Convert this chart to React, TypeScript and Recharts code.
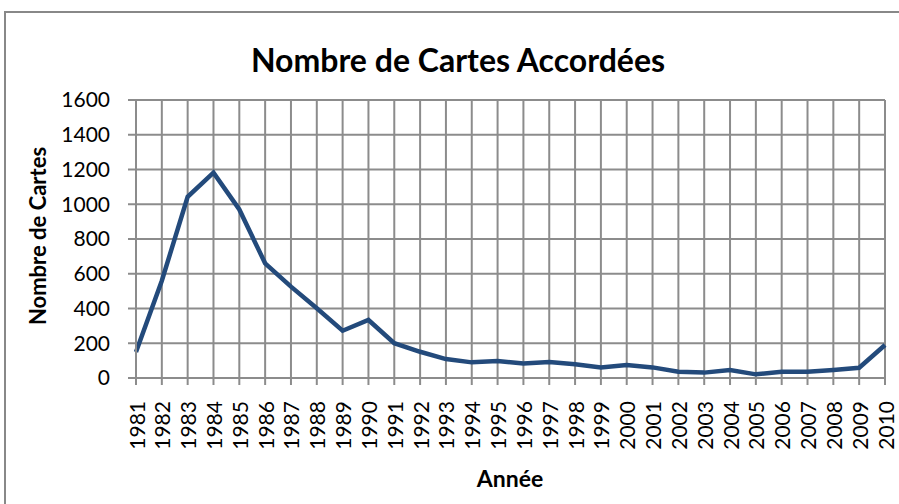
import { CartesianGrid, Line, LineChart, XAxis, YAxis } from "recharts";

const years = [
  "1981", "1982", "1983", "1984", "1985", "1986", "1987", "1988", "1989", "1990",
  "1991", "1992", "1993", "1994", "1995", "1996", "1997", "1998", "1999", "2000",
  "2001", "2002", "2003", "2004", "2005", "2006", "2007", "2008", "2009", "2010",
];
const cartes = [
  150, 560, 1043, 1182, 970, 660, 526, 401, 272, 334,
  200, 151, 109, 90, 98, 84, 92, 79, 61, 75,
  61, 36, 31, 46, 21, 36, 36, 46, 59, 190,
];
const yTicks = [0, 200, 400, 600, 800, 1000, 1200, 1400, 1600];

const data = years.map((year, i) => ({ year, cartes: cartes[i] }));

const FONT = "Lato, 'Open Sans', sans-serif";
const GRID = "#8c8c8c";

function YearTick({ x, y, payload }: any) {
  return (
    <text
      x={x}
      y={y}
      transform={`rotate(-90 ${x} ${y})`}
      textAnchor="end"
      dominantBaseline="central"
      fontFamily={FONT}
      fontSize={21}
      fill="#000"
    >
      {payload.value}
    </text>
  );
}

export default function App() {
  return (
    <div
      style={{
        position: "absolute",
        left: 0,
        top: 0,
        width: 899,
        height: 504,
        overflow: "hidden",
        background: "#fff",
        fontFamily: FONT,
      }}
    >
      <div
        style={{
          position: "absolute",
          left: 4,
          top: 11,
          width: 1000,
          height: 600,
          border: "2px solid #888",
        }}
      />
      <div
        style={{
          position: "absolute",
          left: 0,
          top: 40,
          width: 916,
          textAlign: "center",
          fontSize: 32,
          fontWeight: 700,
          lineHeight: "40px",
        }}
      >
        Nombre de Cartes Accordées
      </div>
      <div
        style={{
          position: "absolute",
          left: 38 - 150,
          top: 236 - 14,
          width: 300,
          lineHeight: "28px",
          textAlign: "center",
          fontSize: 22,
          fontWeight: 700,
          transform: "rotate(-90deg)",
        }}
      >
        Nombre de Cartes
      </div>
      <div
        style={{
          position: "absolute",
          left: 510 - 100,
          top: 478 - 14,
          width: 200,
          lineHeight: "28px",
          textAlign: "center",
          fontSize: 23,
          fontWeight: 700,
        }}
      >
        Année
      </div>
      <LineChart
        width={899}
        height={504}
        data={data}
        margin={{ top: 100, right: 14, bottom: 0, left: 0 }}
        style={{ position: "absolute", left: 0, top: 0 }}
      >
        <CartesianGrid stroke={GRID} strokeWidth={2} />
        <XAxis
          dataKey="year"
          interval={0}
          height={126}
          tickSize={7}
          tickMargin={16}
          stroke={GRID}
          strokeWidth={2}
          tick={<YearTick />}
        />
        <YAxis
          width={136}
          domain={[0, 1600]}
          ticks={yTicks}
          interval={0}
          tickSize={8}
          tickMargin={18}
          stroke={GRID}
          strokeWidth={2}
          tick={{ fill: "#000", fontSize: 21, fontFamily: FONT }}
        />
        <Line
          type="linear"
          dataKey="cartes"
          stroke="#234a7b"
          strokeWidth={4.5}
          dot={false}
          isAnimationActive={false}
        />
      </LineChart>
    </div>
  );
}
